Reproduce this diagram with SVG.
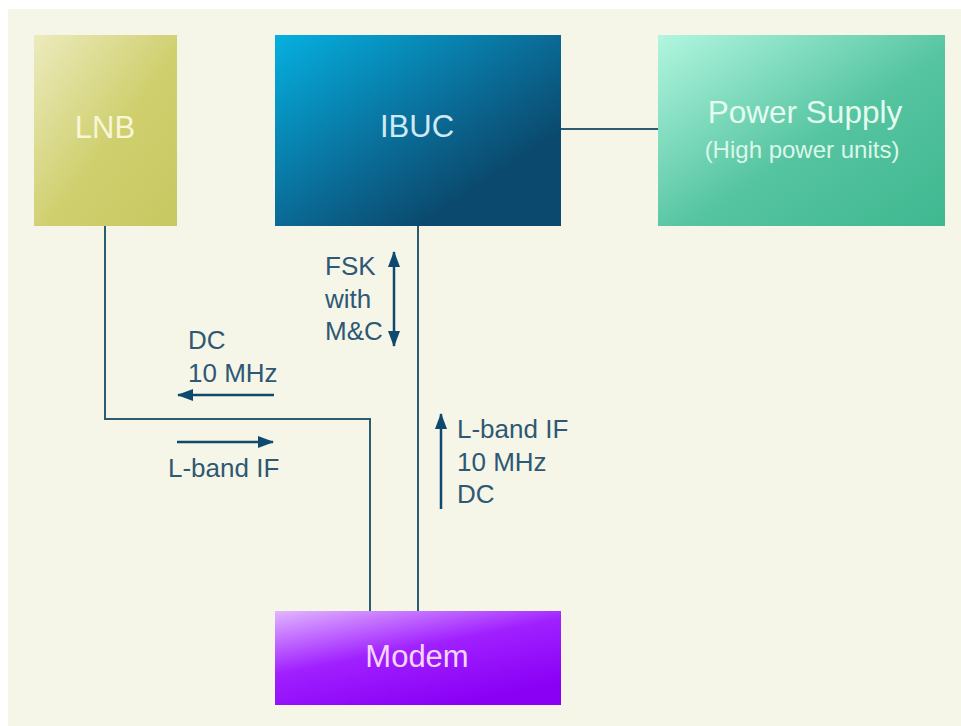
<svg xmlns="http://www.w3.org/2000/svg" width="961" height="726" viewBox="0 0 961 726">
<defs>
<linearGradient id="gLnb" x1="0" y1="0" x2="1" y2="1"><stop offset="0" stop-color="#ecebbd"/><stop offset="0.55" stop-color="#cfcf6e"/><stop offset="1" stop-color="#c8c862"/></linearGradient>
<linearGradient id="gIbuc" x1="0" y1="0" x2="1" y2="1"><stop offset="0" stop-color="#05b0e0"/><stop offset="0.5" stop-color="#0a6a95"/><stop offset="0.75" stop-color="#0b4a6e"/><stop offset="1" stop-color="#0b4a6e"/></linearGradient>
<linearGradient id="gPower" x1="0" y1="0" x2="1" y2="1"><stop offset="0" stop-color="#b2f6e0"/><stop offset="0.55" stop-color="#55c4a0"/><stop offset="1" stop-color="#3fb890"/></linearGradient>
<linearGradient id="gModem" x1="0" y1="0" x2="0.6" y2="1"><stop offset="0" stop-color="#e2b6ff"/><stop offset="0.5" stop-color="#a020ff"/><stop offset="1" stop-color="#8a00f5"/></linearGradient>
<marker id="ah" viewBox="0 0 16 12" refX="15" refY="6" markerWidth="6.5" markerHeight="4.8" orient="auto-start-reverse" markerUnits="strokeWidth"><path d="M0,0 L16,6 L0,12 z" fill="#0e4a6e"/></marker>
<style>
.lbl{font-family:"Liberation Sans",Arial,sans-serif;font-size:26px;fill:#2e5874}
.nt{font-family:"Liberation Sans",Arial,sans-serif;font-size:31px;text-anchor:middle}
.conn{stroke:#2c5c72;stroke-width:2;fill:none}
.arr{stroke:#0e4a6e;stroke-width:2.5;fill:none}
</style>
</defs>
<rect x="0" y="0" width="961" height="726" fill="#ffffff"/>
<rect x="8" y="9" width="953" height="717" fill="#f5f6e8"/>
<g id="connectors">
<path class="conn" d="M105,226 V419 H370 V611"/>
<path class="conn" d="M418,226 V611"/>
<path class="conn" d="M561,129 H658"/>
</g>
<g id="arrows">
<path class="arr" d="M394,252 V346" marker-start="url(#ah)" marker-end="url(#ah)"/>
<path class="arr" d="M274,395 H178" marker-end="url(#ah)"/>
<path class="arr" d="M177,442 H273" marker-end="url(#ah)"/>
<path class="arr" d="M441,509 V414" marker-end="url(#ah)"/>
</g>
<g id="labels">
<text class="lbl" x="325" y="275">FSK</text>
<text class="lbl" x="325" y="308">with</text>
<text class="lbl" x="325" y="340">M&amp;C</text>
<text class="lbl" x="188" y="349">DC</text>
<text class="lbl" x="188" y="382">10 MHz</text>
<text class="lbl" x="168" y="477">L-band IF</text>
<text class="lbl" x="457" y="438">L-band IF</text>
<text class="lbl" x="457" y="471">10 MHz</text>
<text class="lbl" x="457" y="503">DC</text>
</g>
<g id="lnb">
<rect x="34" y="35" width="143" height="191" fill="url(#gLnb)"/>
<text class="nt" x="105" y="138" fill="#f7f6d8">LNB</text>
</g>
<g id="ibuc">
<rect x="275" y="35" width="286" height="191" fill="url(#gIbuc)"/>
<text class="nt" x="417" y="137" fill="#cfeaf5">IBUC</text>
</g>
<g id="power">
<rect x="658" y="35" width="287" height="191" fill="url(#gPower)"/>
<text class="nt" x="805" y="123" style="font-size:31.5px" fill="#e4fbf0">Power Supply</text>
<text class="nt" x="802" y="158" style="font-size:24px" fill="#dcf7ea">(High power units)</text>
</g>
<g id="modem">
<rect x="275" y="611" width="286" height="94" fill="url(#gModem)"/>
<text class="nt" x="417" y="667" fill="#f5d6fb">Modem</text>
</g>
</svg>
